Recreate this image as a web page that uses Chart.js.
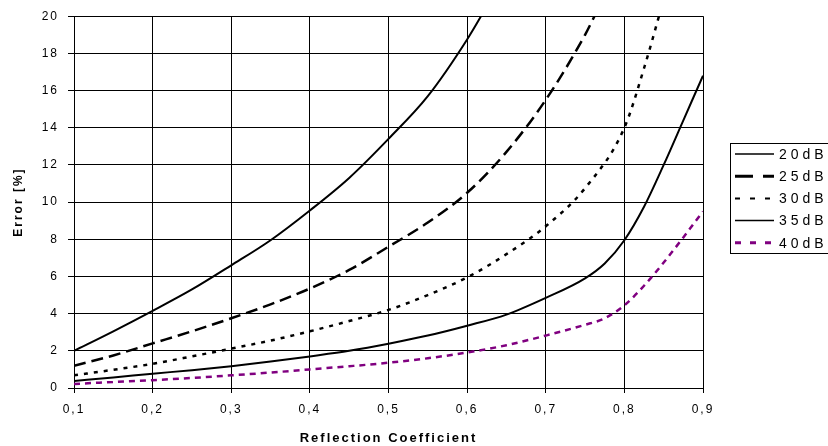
<!DOCTYPE html>
<html>
<head>
<meta charset="utf-8">
<script src="https://cdn.jsdelivr.net/npm/chart.js@4.4.0/dist/chart.umd.min.js"></script>
<style>
  html, body { margin: 0; padding: 0; background: #fff; }
</style>
</head>
<body>
<canvas id="myChart" width="828" height="446"></canvas>
<script>
const seriesLabels = ['20dB', '25dB', '30dB', '35dB', '40dB'];

const refl20 = [0.1, 0.15, 0.2, 0.25, 0.3, 0.35, 0.4, 0.45, 0.5, 0.55, 0.6, 0.63];
const err20 = [2.0, 3.05, 4.15, 5.3, 6.6, 7.95, 9.55, 11.3, 13.4, 15.7, 18.75, 20.9];

const refl25 = [0.1, 0.15, 0.2, 0.25, 0.3, 0.35, 0.4, 0.45, 0.5, 0.55, 0.6, 0.65, 0.7, 0.75, 0.77];
const err25 = [1.2, 1.75, 2.4, 3.05, 3.75, 4.5, 5.35, 6.35, 7.6, 8.9, 10.5, 12.7, 15.5, 19.0, 20.7];

const refl30 = [0.1, 0.15, 0.2, 0.25, 0.3, 0.35, 0.4, 0.45, 0.5, 0.55, 0.6, 0.65, 0.7, 0.75, 0.8, 0.825, 0.85];
const err30 = [0.68, 0.98, 1.3, 1.7, 2.12, 2.55, 3.05, 3.6, 4.2, 5.0, 5.95, 7.2, 8.7, 10.75, 14.0, 17.2, 20.9];

const refl35 = [0.1, 0.15, 0.2, 0.25, 0.3, 0.35, 0.4, 0.45, 0.5, 0.55, 0.6, 0.65, 0.7, 0.75, 0.775, 0.8, 0.825, 0.85, 0.875, 0.9];
const err35 = [0.38, 0.57, 0.77, 0.96, 1.17, 1.42, 1.7, 2.0, 2.38, 2.82, 3.35, 3.95, 4.85, 5.9, 6.7, 7.95, 9.75, 12.0, 14.4, 16.8];

const refl40 = [0.1, 0.15, 0.2, 0.25, 0.3, 0.35, 0.4, 0.45, 0.5, 0.55, 0.6, 0.65, 0.7, 0.75, 0.775, 0.8, 0.825, 0.85, 0.875, 0.9];
const err40 = [0.22, 0.32, 0.42, 0.54, 0.68, 0.83, 1.0, 1.17, 1.36, 1.6, 1.91, 2.3, 2.82, 3.4, 3.75, 4.45, 5.5, 6.75, 8.1, 9.5];

const FONT = "'Liberation Sans', Arial, sans-serif";

function toPoints(xs, ys) {
    return xs.map((x, i) => ({ x: x, y: ys[i] }));
}

function makeSet(label, xs, ys, color, width, dash, legendWidth, legendDash) {
    return {
        label: label,
        data: toPoints(xs, ys),
        borderColor: color,
        backgroundColor: color,
        borderWidth: width,
        borderDash: dash,
        legendWidth: legendWidth,
        legendDash: legendDash,
        pointRadius: 0,
        cubicInterpolationMode: 'monotone',
        fill: false
    };
}

// canvas letter spacing gets reset whenever the context is touched by a resize
const spacing = {
    id: 'spacing',
    beforeUpdate(chart) { chart.ctx.letterSpacing = '2px'; },
    beforeDraw(chart) { chart.ctx.letterSpacing = '2px'; }
};

const lineLegend = {
    id: 'lineLegend',
    afterDraw(chart) {
        const ctx = chart.ctx;
        const left = 730.5, top = 143.5, bottom = 253.5;
        ctx.save();
        ctx.strokeStyle = '#000';
        ctx.lineWidth = 1;
        ctx.setLineDash([]);
        ctx.strokeRect(left, top, 840 - left, bottom - top);

        ctx.font = '14px ' + FONT;
        ctx.letterSpacing = '4px';
        ctx.textBaseline = 'middle';
        ctx.textAlign = 'left';
        chart.data.datasets.forEach((ds, i) => {
            const y = 154 + i * 22.2;
            ctx.beginPath();
            ctx.strokeStyle = ds.borderColor;
            ctx.lineWidth = ds.legendWidth;
            ctx.setLineDash(ds.legendDash);
            ctx.moveTo(735, y);
            ctx.lineTo(774, y);
            ctx.stroke();
            ctx.fillStyle = '#000';
            ctx.fillText(ds.label, 779, y + 1);
        });
        ctx.restore();
    }
};

const ctx = document.getElementById('myChart').getContext('2d');

const myChart = new Chart(ctx, {
    type: 'line',
    data: {
        datasets: [
            makeSet(seriesLabels[0], refl20, err20, '#000000', 2, [], 1.5, []),
            makeSet(seriesLabels[1], refl25, err25, '#000000', 2.5, [12, 6], 3, [18, 10]),
            makeSet(seriesLabels[2], refl30, err30, '#000000', 2.5, [4, 6], 2, [5, 10]),
            makeSet(seriesLabels[3], refl35, err35, '#000000', 2, [], 1.5, []),
            makeSet(seriesLabels[4], refl40, err40, '#800080', 2.5, [6, 5], 3, [6, 9])
        ]
    },
    options: {
        responsive: false,
        animation: false,
        devicePixelRatio: 1,
        layout: { padding: { left: 0, right: 125, top: 8, bottom: 0 } },
        plugins: {
            legend: { display: false },
            tooltip: { enabled: false }
        },
        scales: {
            x: {
                type: 'linear',
                min: 0.1,
                max: 0.9,
                afterFit(scale) { scale.height = 58; },
                grid: { color: '#000', lineWidth: 1, tickLength: 5, drawOnChartArea: true },
                border: { color: '#000', width: 1 },
                ticks: {
                    stepSize: 0.1,
                    padding: 9,
                    color: '#000',
                    font: { family: FONT, size: 12 },
                    maxRotation: 0,
                    callback: (v) => v.toFixed(1).replace('.', ',')
                },
                title: {
                    display: true,
                    text: 'Reflection Coefficient',
                    color: '#000',
                    font: { family: FONT, size: 13, weight: 'bold' },
                    padding: { top: 5, bottom: 0 }
                }
            },
            y: {
                min: 0,
                max: 20,
                afterFit(scale) { scale.width = 74; },
                grid: { color: '#000', lineWidth: 1, tickLength: 6 },
                border: { color: '#000', width: 1 },
                ticks: {
                    stepSize: 2,
                    padding: 9,
                    color: '#000',
                    font: { family: FONT, size: 12 }
                },
                title: {
                    display: true,
                    text: 'Error [%]',
                    color: '#000',
                    font: { family: FONT, size: 12, weight: 'bold' },
                    padding: { top: 11, bottom: 0 }
                }
            }
        }
    },
    plugins: [spacing, lineLegend]
});
</script>
</body>
</html>
